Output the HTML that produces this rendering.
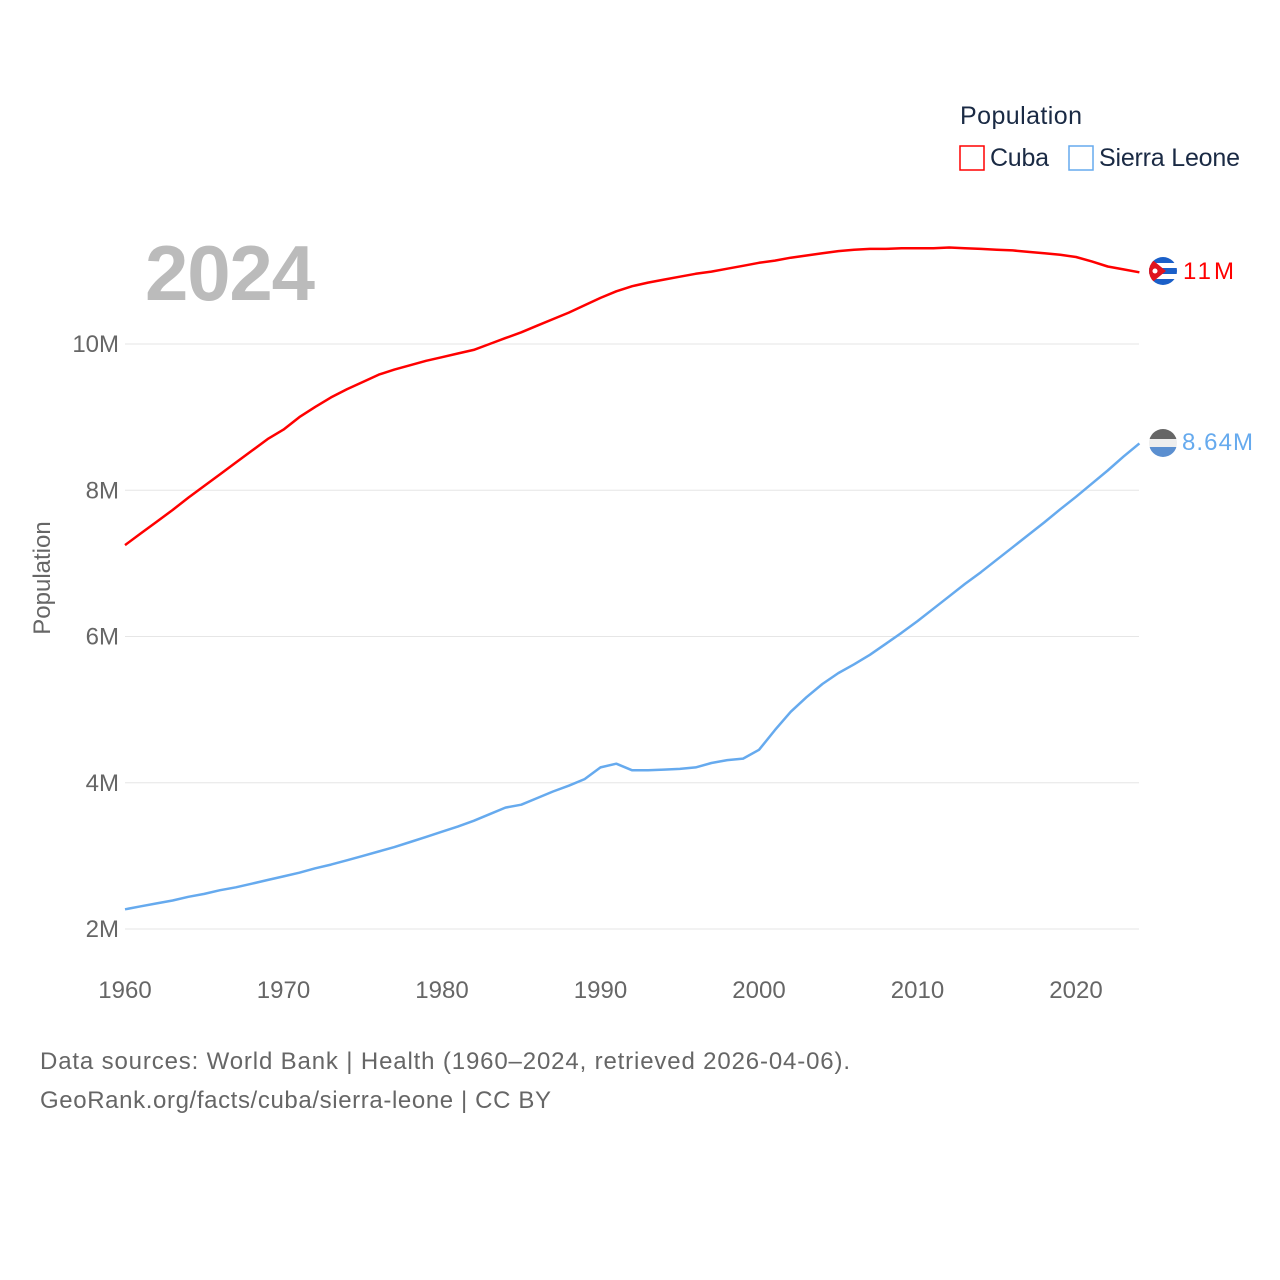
<!DOCTYPE html>
<html><head><meta charset="utf-8"><style>
html,body{margin:0;padding:0;background:#fff;}
body{width:1280px;height:1280px;position:relative;font-family:"Liberation Sans",sans-serif;overflow:hidden;}
</style></head><body>
<svg id="chart" width="1280" height="1280" xmlns="http://www.w3.org/2000/svg" style="position:absolute;left:0;top:0">
<g id="grid"></g>
<g id="yticks"></g>
<g id="xticks"></g>
<text transform="translate(50,578) rotate(-90)" text-anchor="middle" font-size="24" fill="#666">Population</text>
<text x="145" y="300" font-size="78" font-weight="bold" fill="#bbb" textLength="170">2024</text>
<g id="series"></g>
<g>
<text x="960" y="124" font-size="25" fill="#1a2a44" textLength="122">Population</text>
<rect x="960" y="146" width="24" height="24" fill="none" stroke="#ff0000" stroke-width="1.5"/>
<text x="990" y="166" font-size="25" fill="#1a2a44" textLength="59">Cuba</text>
<rect x="1069" y="146" width="24" height="24" fill="none" stroke="#66aaee" stroke-width="1.5"/>
<text x="1099" y="166" font-size="25" fill="#1a2a44" textLength="141">Sierra Leone</text>
</g>
<defs>
<clipPath id="c1"><circle cx="1163" cy="271" r="14"/></clipPath>
<clipPath id="c2"><circle cx="1163" cy="443" r="14"/></clipPath>
</defs>
<g clip-path="url(#c1)">
<rect x="1149" y="257" width="28" height="28" fill="#fff"/>
<rect x="1149" y="257" width="28" height="6" fill="#1a5fc8"/>
<rect x="1149" y="268" width="28" height="6" fill="#1a5fc8"/>
<rect x="1149" y="279" width="28" height="6" fill="#1a5fc8"/>
<polygon points="1149,257 1166,271 1149,285" fill="#e0141e"/>
<circle cx="1155" cy="271" r="2.5" fill="#fff"/>
</g>
<g clip-path="url(#c2)">
<rect x="1149" y="429" width="28" height="10" fill="#666"/>
<rect x="1149" y="439" width="28" height="8" fill="#eee"/>
<rect x="1149" y="447" width="28" height="10" fill="#5b8fd0"/>
</g>
<text x="1183" y="279" font-size="24" fill="#ff0000" textLength="51">11M</text>
<text x="1182" y="450" font-size="24" fill="#66aaee" textLength="71">8.64M</text>
<text x="40" y="1069" font-size="24" fill="#666" textLength="810">Data sources: World Bank | Health (1960–2024, retrieved 2026-04-06).</text>
<text x="40" y="1108" font-size="24" fill="#666" textLength="511">GeoRank.org/facts/cuba/sierra-leone | CC BY</text>
</svg>
<script>
const years = [];
for (let y = 1960; y <= 2024; y++) years.push(y);
const cuba = [7.25,7.41,7.57,7.73,7.90,8.06,8.22,8.38,8.54,8.70,8.83,9.00,9.14,9.27,9.38,9.48,9.58,9.65,9.71,9.77,9.82,9.87,9.92,10.00,10.08,10.16,10.25,10.34,10.43,10.53,10.63,10.72,10.79,10.84,10.88,10.92,10.96,10.99,11.03,11.07,11.11,11.14,11.18,11.21,11.24,11.27,11.29,11.30,11.30,11.31,11.31,11.31,11.32,11.31,11.30,11.29,11.28,11.26,11.24,11.22,11.19,11.13,11.06,11.02,10.98];
const sierraLeone = [2.27,2.31,2.35,2.39,2.44,2.48,2.53,2.57,2.62,2.67,2.72,2.77,2.83,2.88,2.94,3.00,3.06,3.12,3.19,3.26,3.33,3.40,3.48,3.57,3.66,3.70,3.79,3.88,3.96,4.05,4.21,4.26,4.17,4.17,4.18,4.19,4.21,4.27,4.31,4.33,4.45,4.72,4.97,5.17,5.35,5.50,5.62,5.75,5.90,6.05,6.21,6.38,6.55,6.72,6.88,7.05,7.22,7.39,7.56,7.74,7.91,8.09,8.27,8.46,8.64];
const yTicks = [2,4,6,8,10];
const xTicks = [1960,1970,1980,1990,2000,2010,2020];
const NS = "http://www.w3.org/2000/svg";
const xs = y => 125 + (y - 1960) * (951 / 60);
const ys = v => 929 - (v - 2) * 73.125;
function mk(tag, attrs, parent){const e=document.createElementNS(NS,tag);for(const k in attrs)e.setAttribute(k,attrs[k]);parent.appendChild(e);return e;}
const grid=document.getElementById('grid'), yt=document.getElementById('yticks'), xt=document.getElementById('xticks');
yTicks.forEach(v=>{
  const l=mk('line',{x1:125,x2:1139,y1:ys(v),y2:ys(v),stroke:'#e6e6e6','stroke-width':1},grid);
  
  
  const t=mk('text',{x:119,y:ys(v)+8,'text-anchor':'end','font-size':24,fill:'#666'},yt);
  t.textContent=v+'M';
  
  
});
xTicks.forEach(y=>{
  const t=mk('text',{x:xs(y),y:998,'text-anchor':'middle','font-size':24,fill:'#666'},xt);
  t.textContent=y;
  
  
});
const ser=document.getElementById('series');
function line(vals,color,name){
  const d=vals.map((v,i)=>(i?'L':'M')+xs(years[i]).toFixed(1)+','+ys(v).toFixed(1)).join(' ');
  const p=mk('path',{d:d,fill:'none',stroke:color,'stroke-width':2.5,'stroke-linejoin':'round'},ser);
  
  
}
line(cuba,'#ff0000','cuba-line');
line(sierraLeone,'#66aaee','sierra-leone-line');
</script>
</body></html>
